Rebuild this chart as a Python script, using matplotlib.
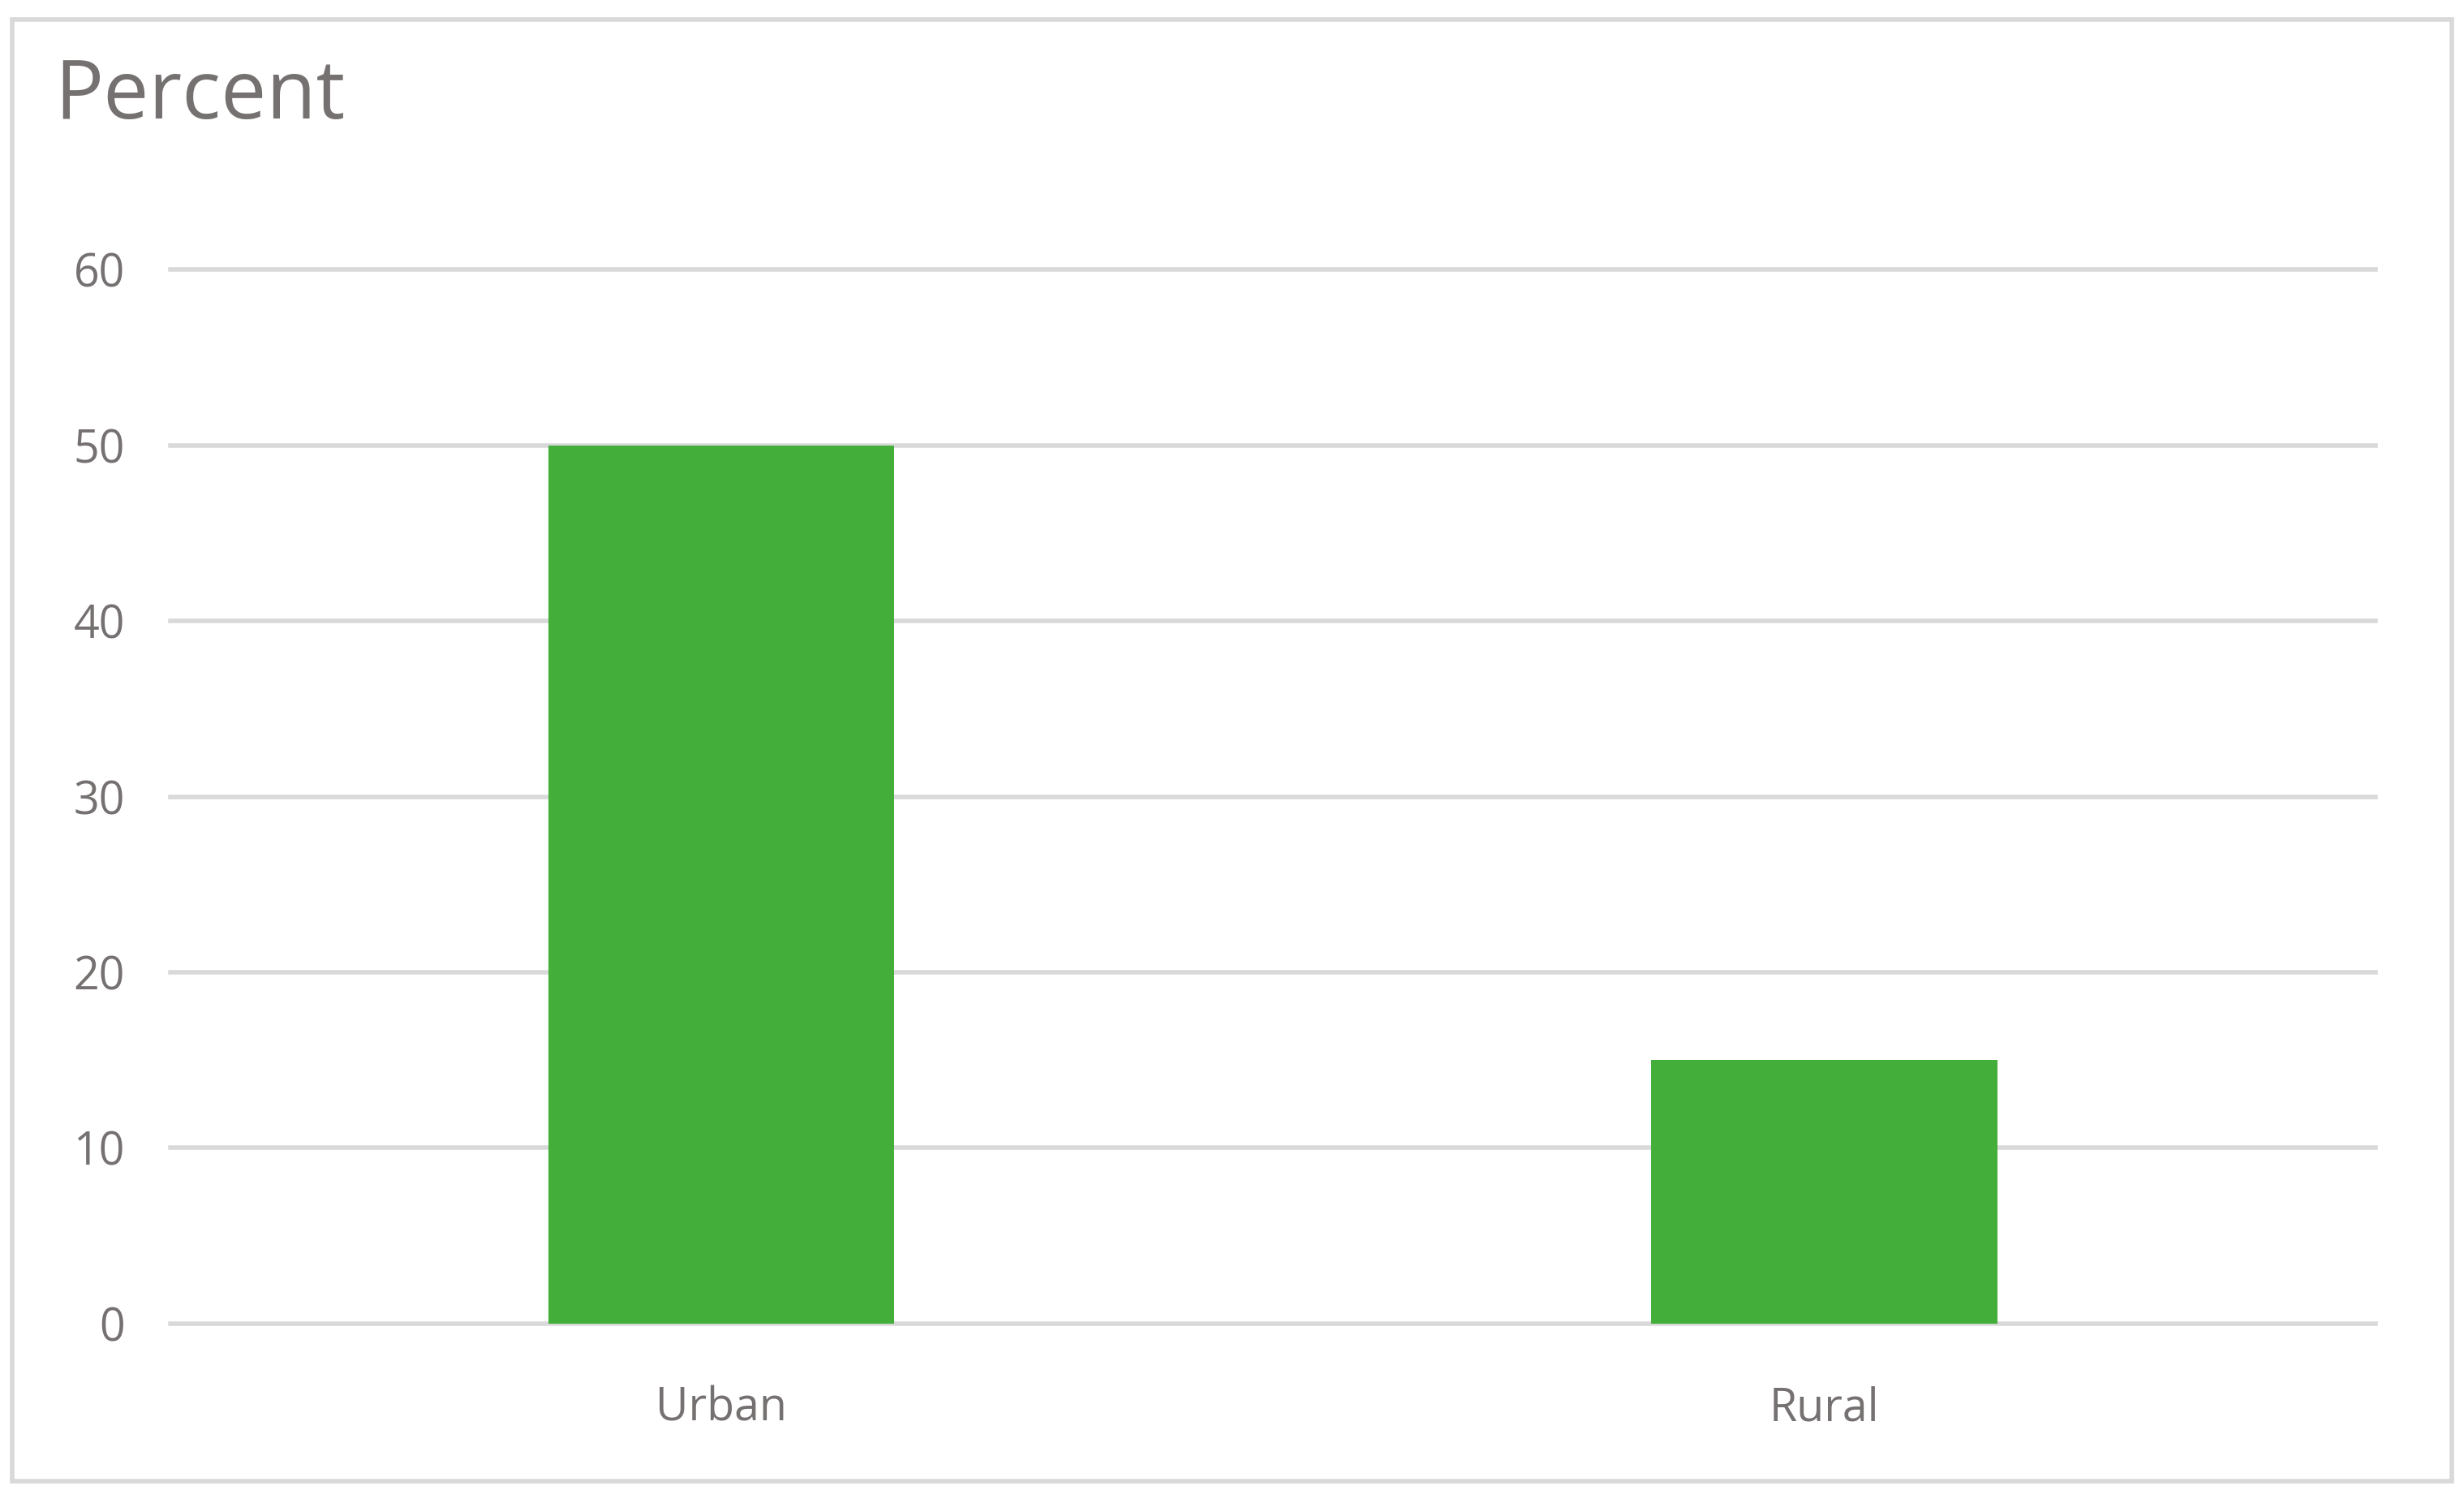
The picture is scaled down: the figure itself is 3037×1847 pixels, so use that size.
import matplotlib
matplotlib.use("Agg")
import matplotlib.pyplot as plt
from matplotlib.patches import Rectangle

categories = ["Urban", "Rural"]
values = [50, 15]
yticks = [0, 10, 20, 30, 40, 50, 60]

plt.rcParams['font.family'] = ['Open Sans', 'DejaVu Sans']
gray = '#767171'

fig = plt.figure(figsize=(30.37, 18.47), dpi=100)
ax = fig.add_axes([0.069, 0.117, 0.895, 0.703])
x = range(len(categories))
ax.bar(x, values, width=0.314, color='#43AE3A', zorder=3)
ax.set_xlim(-0.5, 1.5)
ax.set_ylim(0, 60)
ax.set_yticks(yticks)
ax.set_xticks(list(x))
ax.set_xticklabels(categories)
ax.grid(axis='y', color='#D9D9D9', linewidth=4, zorder=0)
ax.set_axisbelow(True)
for s in ax.spines.values():
    s.set_visible(False)
ax.tick_params(length=0, labelsize=40, colors=gray, pad=40)
ax.tick_params(axis='x', pad=55)
ax.set_clip_on(False)
for line in ax.get_ygridlines():
    line.set_clip_on(False)

fig.text(0.022, 0.935, "Percent", fontsize=72, color=gray, va='center')
fig.patches.append(Rectangle((0.005, 0.012), 0.99, 0.975, transform=fig.transFigure,
                             fill=False, edgecolor='#D9D9D9', linewidth=4))

fig.savefig("out.png", dpi=100, facecolor='white')
